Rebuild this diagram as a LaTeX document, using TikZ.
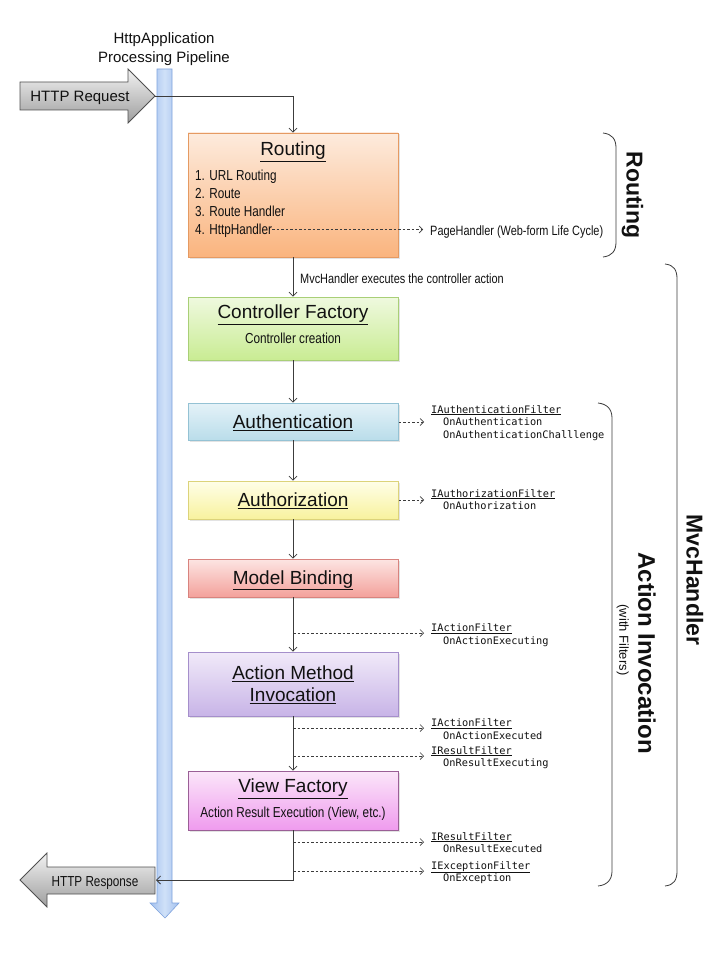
\documentclass[tikz,border=0pt]{standalone}
\usepackage{fontspec}
\setmainfont{Liberation Sans}
\setmonofont{DejaVu Sans Mono}
\newfontfamily\narrowfont[FakeStretch=0.81]{Liberation Sans}
\usetikzlibrary{arrows.meta,shadows}
\definecolor{txt}{HTML}{111111}
\definecolor{linec}{HTML}{3C3C3C}
\definecolor{barline}{HTML}{7FA3DD}
\definecolor{barside}{HTML}{A2C0EE}
\definecolor{barmid}{HTML}{D0E1F8}
\definecolor{grtop}{HTML}{F2F2F2}
\definecolor{grbot}{HTML}{9E9E9E}
\definecolor{grline}{HTML}{505050}
\definecolor{routT}{HTML}{FDEBDD}
\definecolor{routB}{HTML}{FAB47E}
\definecolor{routD}{HTML}{E59A62}
\definecolor{cfT}{HTML}{EFF9DF}
\definecolor{cfB}{HTML}{C9EC93}
\definecolor{cfD}{HTML}{A9CF77}
\definecolor{auT}{HTML}{E4F2F8}
\definecolor{auB}{HTML}{BADDEA}
\definecolor{auD}{HTML}{94C2D4}
\definecolor{azT}{HTML}{FFFEE8}
\definecolor{azB}{HTML}{F8F29E}
\definecolor{azD}{HTML}{DCD37A}
\definecolor{mbT}{HTML}{FDE5E3}
\definecolor{mbB}{HTML}{F3A19B}
\definecolor{mbD}{HTML}{D8837E}
\definecolor{amT}{HTML}{F1EAF9}
\definecolor{amB}{HTML}{C8B4E7}
\definecolor{amD}{HTML}{A58FCB}
\definecolor{vfT}{HTML}{FBE6F9}
\definecolor{vfB}{HTML}{EF9BEE}
\definecolor{vfD}{HTML}{9A5F96}
\tikzset{
  box/.style n args={3}{rectangle, minimum width=210pt, inner sep=0pt,
    top color=#1, bottom color=#2, draw=#3, line width=0.6pt,
    drop shadow={opacity=0.22, shadow xshift=1.5pt, shadow yshift=-1.5pt}},
  tx/.style={inner sep=0pt, text=txt, text depth=0pt},
  hdr/.style={tx, text height=10.8pt, font=\fontsize{15}{18}\selectfont},
  ttl/.style={tx, text height=13.7pt, font=\fontsize{19}{22}\selectfont},
  nar/.style={tx, text height=10.4pt, font=\narrowfont\fontsize{14.5}{17}\selectfont},
  nars/.style={tx, text height=9.7pt, font=\narrowfont\fontsize{13.5}{16}\selectfont},
  side/.style={tx, rotate=-90, text height=16.6pt, font=\bfseries\fontsize{23}{26}\selectfont},
  filt/.style={inner sep=0pt, anchor=north west, align=left, text=txt,
    font=\ttfamily\fontsize{10.3}{12.6}\selectfont},
  flow/.style={draw=linec, line width=0.8pt, -{Straight Barb[length=4pt,width=8pt]}},
  dasharr/.style={draw=linec, line width=0.7pt, dash pattern=on 2.5pt off 2pt,
    -{Straight Barb[length=3.5pt,width=7pt]}, shorten >=7pt},
  bracket/.style={draw=linec, line width=0.8pt},
  bigarrow/.style={draw=grline, line width=0.8pt, top color=grtop, bottom color=grbot}
}
\begin{document}
\begin{tikzpicture}[x=1pt,y=-1pt]
\useasboundingbox (0,0) rectangle (722,960);
\fill[white] (0,0) rectangle (722,960);

% header
\node[hdr] (hdr1) at (164,38) {HttpApplication};
\node[hdr] (hdr2) at (164,57) {Processing Pipeline};

% pipeline bar
\path[draw=barline, line width=0.6pt, left color=barside, right color=barside, middle color=barmid]
  (157,69) -- (172,69) -- (172,903) -- (179,903) -- (165,918) -- (150,903) -- (157,903) -- cycle;

% HTTP request / response arrows
\path[bigarrow] (20,82) -- (128,82) -- (128,69) -- (155,96) -- (128,123) -- (128,110) -- (20,110) -- cycle;
\node[hdr] (req) at (80,96) {HTTP Request};
\coordinate (reqtip) at (155,96);
\path[bigarrow] (155,867) -- (47,867) -- (47,853) -- (20,880) -- (47,907) -- (47,894) -- (155,894) -- cycle;
\node[nar] (resp) at (95,881) {HTTP Response};
\coordinate (resptip) at (156,880);

% boxes
\node[box={routT}{routB}{routD}, minimum height=124pt] (routing) at (293,195) {};
\node[box={cfT}{cfB}{cfD}, minimum height=63pt] (cf) at (293,328.5) {};
\node[box={auT}{auB}{auD}, minimum height=37pt] (auth) at (293,421.5) {};
\node[box={azT}{azB}{azD}, minimum height=38pt] (authz) at (293,500) {};
\node[box={mbT}{mbB}{mbD}, minimum height=38pt] (mb) at (293,578) {};
\node[box={amT}{amB}{amD}, minimum height=64pt] (ami) at (293,684) {};
\node[box={vfT}{vfB}{vfD}, minimum height=59pt] (vf) at (293,800.5) {};

% box texts
\node[ttl] (routingT) at (293,149) {\underline{Routing}};
\node[nar, anchor=west] (l1) at (195,175) {1. URL Routing};
\node[nar, anchor=west] (l2) at (195,193) {2. Route};
\node[nar, anchor=west] (l3) at (195,211) {3. Route Handler};
\node[nar, anchor=west] (hh) at (195,229.5) {4. HttpHandler};
\node[ttl] (cfT1) at (293,312) {\underline{Controller Factory}};
\node[nar] (cfT2) at (293,338) {Controller creation};
\node[ttl] (auT1) at (293,421.5) {\underline{Authentication}};
\node[ttl] (azT1) at (293,499.5) {\underline{Authorization}};
\node[ttl] (mbT1) at (293,577.5) {\underline{Model Binding}};
\node[ttl] (amT1) at (293,672.5) {\underline{Action Method}};
\node[ttl] (amT2) at (293,694.5) {\underline{Invocation}};
\node[ttl] (vfT1) at (293,785.5) {\underline{View Factory}};
\node[nar] (vfT2) at (293,812) {Action Result Execution (View, etc.)};

% other labels
\node[nars, anchor=west] (ph) at (430,231) {PageHandler (Web-form Life Cycle)};
\node[nars, anchor=west] (mvcexec) at (300,279) {MvcHandler executes the controller action};

% main flow
\draw[flow] (reqtip) -| (routing.north);
\draw[flow] (routing.south) -- (cf.north);
\draw[flow] (cf.south) -- (auth.north);
\draw[flow] (auth.south) -- (authz.north);
\draw[flow] (authz.south) -- (mb.north);
\draw[flow] (mb.south) -- (ami.north);
\draw[flow] (ami.south) -- (vf.north);
\draw[flow] (vf.south) |- (resptip);

% filters
\node[filt] (f1) at (431,405) {\underline{IAuthenticationFilter}\\\hspace*{12pt}OnAuthentication\\\hspace*{12pt}OnAuthenticationChalllenge};
\node[filt] (f2) at (431,489) {\underline{IAuthorizationFilter}\\\hspace*{12pt}OnAuthorization};
\node[filt] (f3) at (431,623.5) {\underline{IActionFilter}\\\hspace*{12pt}OnActionExecuting};
\node[filt] (f4) at (431,718.5) {\underline{IActionFilter}\\\hspace*{12pt}OnActionExecuted};
\node[filt] (f5) at (431,746) {\underline{IResultFilter}\\\hspace*{12pt}OnResultExecuting};
\node[filt] (f6) at (431,832) {\underline{IResultFilter}\\\hspace*{12pt}OnResultExecuted};
\node[filt] (f7) at (431,861) {\underline{IExceptionFilter}\\\hspace*{12pt}OnException};

\coordinate (a1) at (398.5,422);
\coordinate (a2) at (398.5,500);
\coordinate (m3) at (293,633);
\coordinate (m4) at (293,728);
\coordinate (m5) at (293,756);
\coordinate (m6) at (293,842);
\coordinate (m7) at (293,871);
\draw[dasharr] (hh.east) -- (hh.east -| ph.west);
\draw[dasharr] (a1) -- (a1 -| f1.west);
\draw[dasharr] (a2) -- (a2 -| f2.west);
\draw[dasharr] (m3) -- (m3 -| f3.west);
\draw[dasharr] (m4) -- (m4 -| f4.west);
\draw[dasharr] (m5) -- (m5 -| f5.west);
\draw[dasharr] (m6) -- (m6 -| f6.west);
\draw[dasharr] (m7) -- (m7 -| f7.west);

% brackets
\draw[bracket] (603,133) .. controls (612,134) and (616,139) .. (616,148) -- (616,242) .. controls (616,251) and (612,256) .. (603,257);
\draw[bracket] (665,264) .. controls (674,265) and (677,270) .. (677,279) -- (677,871) .. controls (677,880) and (674,885) .. (665,886);
\draw[bracket] (598,403) .. controls (607,404) and (612,409) .. (612,418) -- (612,871) .. controls (612,880) and (607,885) .. (598,886);

% side labels
\node[side] (sRouting) at (635,195) {Routing};
\node[side] (sMvc) at (695,580) {MvcHandler};
\node[side, text height=17.3pt, font=\bfseries\fontsize{24}{27}\selectfont] (sAI) at (647,653) {Action Invocation};
\node[tx, rotate=-90, text height=9.4pt, font=\fontsize{13}{15}\selectfont] (sWF) at (624,640) {(with Filters)};
\end{tikzpicture}
\end{document}
